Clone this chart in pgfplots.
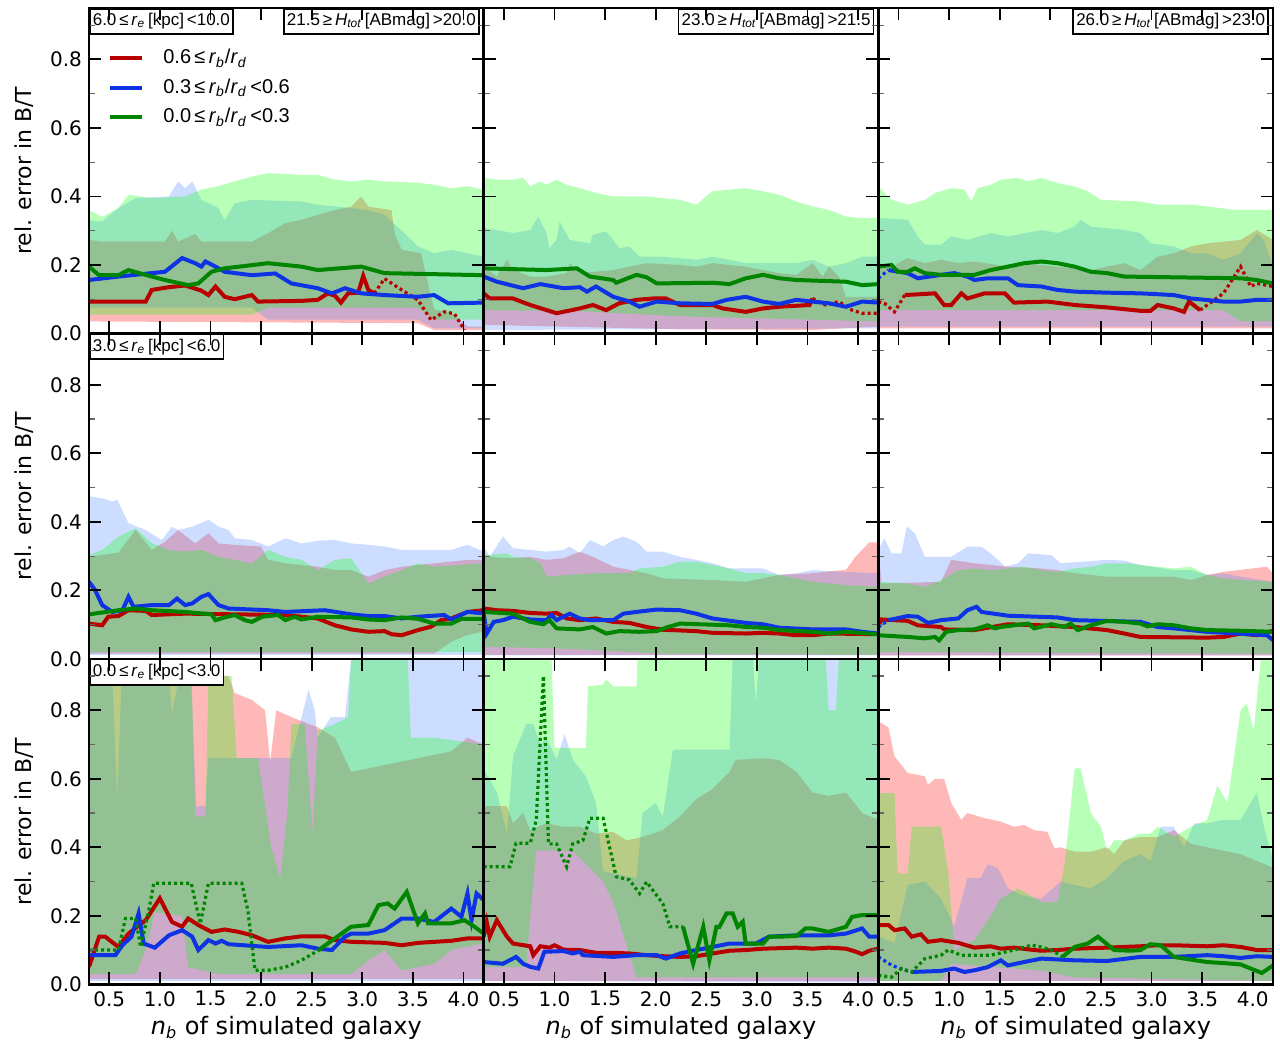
\documentclass[border=0pt]{standalone}
\usepackage{fontspec}
\setmainfont{DejaVu Sans}
\newfontfamily\lib{Liberation Sans}
\usepackage{pgfplots}
\pgfplotsset{compat=1.18}
\usepgfplotslibrary{groupplots,fillbetween}
\definecolor{lred}{rgb}{0.72,0,0}
\definecolor{lblue}{rgb}{0.05,0.2,0.9}
\definecolor{lgreen}{rgb}{0,0.52,0}
\definecolor{fblue}{rgb}{0.3,0.52,1}
\pgfplotsset{
 fR/.style={fill=red, fill opacity=0.28, draw=none, forget plot},
 fB/.style={fill=fblue, fill opacity=0.28, draw=none, forget plot},
 fG/.style={fill=green, fill opacity=0.28, draw=none, forget plot},
 pth/.style={draw=none, forget plot},
 mR/.style={lred, line width=2pt, forget plot},
 mB/.style={lblue, line width=2pt, forget plot},
 mG/.style={lgreen, line width=2pt, forget plot},
 dR/.style={lred, line width=1.6pt, dash pattern=on 1.5pt off 1.5pt, forget plot},
 dB/.style={lblue, line width=1.6pt, dash pattern=on 1.5pt off 1.5pt, forget plot},
 dG/.style={lgreen, line width=1.6pt, dash pattern=on 1.5pt off 1.5pt, forget plot},
}
\tikzset{boxl/.style={draw=black, line width=0.8pt, fill=white, inner xsep=1.5pt, inner ysep=2.3pt, font=\lib\fontsize{8.5}{10}\selectfont}}
\begin{document}
\begin{tikzpicture}
\begin{groupplot}[
 group style={group size=3 by 3, horizontal sep=0pt, vertical sep=0pt, group name=G,
   xticklabels at=edge bottom, yticklabels at=edge left},
 width=197.3pt, height=162.7pt, scale only axis,
 xmin=0.3, xmax=4.2, ymin=0, ymax=0.95,
 xtick={0.5,1,1.5,2,2.5,3,3.5,4},
 ytick={0,0.2,0.4,0.6,0.8},
 minor ytick={0.1,0.3,0.5,0.7,0.9},
 tick align=inside,
 major tick length=6pt, minor tick length=3pt,
 major tick style={black, line width=0.9pt},
 minor tick style={black!60, line width=0.6pt},
 axis line style={line width=1.2pt},
 axis on top,
 no markers,
 tick label style={font=\fontsize{10}{12}\selectfont},
 xticklabel style={/pgf/number format/.cd, fixed, fixed zerofill, precision=1, assume math mode=true},
 yticklabel style={/pgf/number format/.cd, fixed, fixed zerofill, precision=1, assume math mode=true},
 ylabel style={at={(axis description cs:-0.165,0.5)}, anchor=center, font=\fontsize{11}{13}\selectfont},
 xlabel style={at={(axis description cs:0.5,-0.135)}, anchor=center, font=\fontsize{12}{14}\selectfont},
]
% ---------------- r1c1
\nextgroupplot[ylabel={rel. error in B/T},
 legend style={draw=none, fill=none, at={(axis description cs:0.048,0.886)}, anchor=north west,
   font=\lib\fontsize{10}{12}\selectfont, row sep=2pt, column sep=7.5pt, inner sep=0pt, nodes={inner sep=2pt}},
 legend cell align=left,
 legend image code/.code={\draw[#1, line width=2pt] (0pt,0pt) -- (16pt,0pt);}]
\addlegendimage{lred}\addlegendentry{0.6\,≤\,\textit{r}\textsubscript{\textit{b}}/\textit{r}\textsubscript{\textit{d}}}
\addlegendimage{lblue}\addlegendentry{0.3\,≤\,\textit{r}\textsubscript{\textit{b}}/\textit{r}\textsubscript{\textit{d}}\,<0.6}
\addlegendimage{lgreen}\addlegendentry{0.0\,≤\,\textit{r}\textsubscript{\textit{b}}/\textit{r}\textsubscript{\textit{d}}\,<0.3}
\addplot[pth, name path=a1] coordinates {(0.30,0.273)(0.43,0.268)(1.05,0.268)(1.12,0.30)(1.18,0.268)(1.35,0.29)(1.41,0.268)(1.91,0.268)(2.07,0.293)(2.24,0.322)(2.40,0.332)(2.56,0.346)(2.73,0.36)(2.89,0.37)(2.99,0.40)(3.06,0.37)(3.29,0.36)(3.32,0.29)(3.39,0.244)(3.58,0.234)(3.71,0.07)(3.88,0.06)(4.04,0.02)(4.2,0.02)};
\addplot[pth, name path=b1] coordinates {(0.30,0.035)(3.55,0.03)(3.71,0.01)(4.2,0.01)};
\addplot[fR] fill between[of=a1 and b1];
\addplot[pth, name path=c1] coordinates {(0.30,0.33)(0.43,0.327)(0.59,0.366)(0.76,0.395)(1.09,0.40)(1.18,0.444)(1.25,0.424)(1.32,0.444)(1.41,0.39)(1.58,0.366)(1.64,0.33)(1.74,0.38)(1.91,0.39)(2.40,0.385)(2.56,0.376)(2.89,0.366)(3.06,0.36)(3.22,0.346)(3.39,0.30)(3.55,0.254)(3.71,0.234)(3.88,0.244)(4.2,0.224)};
\addplot[pth, name path=d1] coordinates {(0.30,0.075)(1.91,0.075)(2.07,0.04)(3.55,0.04)(3.71,0.015)(4.2,0.015)};
\addplot[fB] fill between[of=c1 and d1];
\addplot[pth, name path=e1] coordinates {(0.30,0.36)(0.43,0.34)(0.59,0.366)(0.69,0.405)(0.92,0.395)(1.25,0.40)(1.41,0.42)(1.58,0.43)(1.74,0.444)(1.91,0.458)(2.07,0.468)(2.40,0.463)(2.56,0.463)(2.73,0.449)(2.89,0.444)(3.06,0.449)(3.22,0.444)(3.55,0.44)(3.71,0.434)(3.88,0.424)(4.04,0.43)(4.2,0.42)};
\addplot[pth, name path=f1] coordinates {(0.30,0.055)(1.91,0.055)(2.07,0.075)(3.55,0.075)(3.71,0.04)(4.2,0.04)};
\addplot[fG] fill between[of=e1 and f1];
\addplot[mR] coordinates {(0.30,0.093)(0.86,0.093)(0.92,0.127)(1.09,0.135)(1.25,0.14)(1.41,0.125)(1.48,0.112)(1.55,0.137)(1.64,0.107)(1.74,0.10)(1.91,0.112)(1.97,0.093)(2.40,0.095)(2.56,0.098)(2.66,0.117)(2.73,0.11)(2.79,0.09)(2.86,0.117)(2.96,0.119)(3.01,0.168)(3.06,0.127)(3.12,0.117)};
\addplot[dR] coordinates {(3.12,0.117)(3.22,0.16)(3.39,0.127)(3.55,0.098)(3.68,0.039)(3.81,0.063)(3.91,0.058)(4.01,0.01)};
\addplot[mB] coordinates {(0.30,0.156)(0.59,0.166)(1.05,0.18)(1.22,0.22)(1.35,0.205)(1.41,0.195)(1.45,0.21)(1.55,0.195)(1.64,0.18)(1.91,0.17)(2.14,0.175)(2.30,0.146)(2.56,0.132)(2.70,0.117)(2.83,0.132)(2.99,0.117)(3.22,0.112)(3.55,0.107)(3.71,0.112)(3.85,0.088)(4.2,0.09)};
\addplot[mG] coordinates {(0.30,0.195)(0.40,0.17)(0.59,0.17)(0.69,0.185)(0.92,0.166)(1.05,0.156)(1.28,0.141)(1.38,0.146)(1.51,0.18)(1.64,0.19)(2.07,0.205)(2.40,0.195)(2.56,0.185)(2.99,0.195)(3.22,0.176)(4.2,0.17)};
\node[boxl, anchor=north west] at (rel axis cs:0,1) {6.0\,≤\,\textit{r}\textsubscript{\textit{e}}\,[kpc]\,<10.0};
\node[boxl, anchor=north east, xshift=-2pt] at (rel axis cs:1,1) {21.5\,≥\,\textit{H}\textsubscript{\textit{tot}}\,[ABmag]\,>20.0};
% ---------------- r1c2
\nextgroupplot
\addplot[pth, name path=a2] coordinates {(0.30,0.195)(0.43,0.166)(0.53,0.215)(0.59,0.185)(0.76,0.166)(0.92,0.166)(1.12,0.176)(1.15,0.205)(1.25,0.176)(1.58,0.185)(1.74,0.195)(1.91,0.205)(2.24,0.20)(2.40,0.195)(2.56,0.205)(2.89,0.195)(3.06,0.185)(3.22,0.176)(3.39,0.171)(3.55,0.205)(3.65,0.166)(3.71,0.195)(3.81,0.166)(3.88,0.107)(4.2,0.107)};
\addplot[pth, name path=b2] coordinates {(0.30,0.025)(2.24,0.012)(3.55,0.01)(4.2,0.02)};
\addplot[fR] fill between[of=a2 and b2];
\addplot[pth, name path=c2] coordinates {(0.30,0.307)(0.43,0.302)(0.59,0.293)(0.76,0.302)(0.84,0.341)(0.92,0.293)(0.95,0.249)(1.02,0.273)(1.05,0.327)(1.15,0.273)(1.35,0.263)(1.38,0.288)(1.51,0.298)(1.58,0.273)(1.64,0.249)(1.74,0.254)(1.84,0.224)(2.07,0.224)(2.40,0.215)(2.56,0.224)(2.73,0.215)(2.89,0.205)(3.39,0.205)(3.55,0.215)(3.71,0.195)(3.88,0.205)(4.04,0.224)(4.2,0.224)};
\addplot[pth, name path=d2] coordinates {(0.30,0.01)(4.2,0.015)};
\addplot[fB] fill between[of=c2 and d2];
\addplot[pth, name path=e2] coordinates {(0.30,0.454)(0.43,0.449)(0.59,0.449)(0.69,0.454)(0.76,0.429)(0.86,0.444)(0.92,0.434)(1.02,0.449)(1.12,0.434)(1.25,0.424)(1.41,0.41)(1.58,0.40)(1.91,0.40)(2.07,0.395)(2.24,0.39)(2.40,0.376)(2.56,0.415)(2.73,0.42)(2.89,0.424)(3.06,0.415)(3.22,0.405)(3.39,0.385)(3.55,0.371)(3.71,0.361)(3.88,0.341)(4.04,0.337)(4.2,0.337)};
\addplot[pth, name path=f2] coordinates {(0.30,0.068)(1.25,0.065)(2.24,0.05)(3.55,0.04)(4.2,0.035)};
\addplot[fG] fill between[of=e2 and f2];
\addplot[mR] coordinates {(0.30,0.117)(0.36,0.102)(0.59,0.102)(0.76,0.083)(1.02,0.059)(1.25,0.073)(1.38,0.083)(1.51,0.068)(1.64,0.088)(1.81,0.098)(1.97,0.102)(2.10,0.102)(2.24,0.083)(2.56,0.083)(2.66,0.073)(2.89,0.063)(3.06,0.073)(3.22,0.078)(3.52,0.083)(3.55,0.102)};
\addplot[dR] coordinates {(3.55,0.102)(3.68,0.083)(3.81,0.093)(3.94,0.068)(4.04,0.059)(4.2,0.059)};
\addplot[mB] coordinates {(0.30,0.166)(0.43,0.151)(0.69,0.132)(0.86,0.144)(1.09,0.132)(1.25,0.135)(1.32,0.122)(1.41,0.137)(1.58,0.107)(1.74,0.093)(1.84,0.078)(2.01,0.093)(2.24,0.088)(2.56,0.086)(2.70,0.098)(2.89,0.107)(3.06,0.093)(3.22,0.086)(3.39,0.098)(3.55,0.093)(3.71,0.088)(3.88,0.078)(4.04,0.093)(4.2,0.09)};
\addplot[mG] coordinates {(0.30,0.19)(0.92,0.185)(1.22,0.19)(1.35,0.166)(1.58,0.156)(1.61,0.148)(1.81,0.171)(1.91,0.164)(2.01,0.146)(2.56,0.148)(2.73,0.144)(2.89,0.161)(3.06,0.171)(3.22,0.161)(3.39,0.156)(3.88,0.151)(4.04,0.141)(4.2,0.144)};
\node[boxl, anchor=north east, xshift=-2pt] at (rel axis cs:1,1) {23.0\,≥\,\textit{H}\textsubscript{\textit{tot}}\,[ABmag]\,>21.5};
% ---------------- r1c3
\nextgroupplot
\addplot[pth, name path=a3] coordinates {(0.30,0.205)(0.43,0.195)(0.59,0.22)(0.76,0.205)(0.92,0.215)(1.09,0.205)(1.25,0.21)(1.58,0.195)(1.74,0.205)(2.07,0.195)(2.40,0.185)(2.56,0.195)(2.73,0.205)(2.89,0.185)(3.06,0.224)(3.22,0.234)(3.39,0.254)(3.55,0.263)(3.71,0.268)(3.88,0.273)(4.04,0.302)(4.2,0.273)};
\addplot[pth, name path=b3] coordinates {(0.30,0.015)(4.2,0.015)};
\addplot[fR] fill between[of=a3 and b3];
\addplot[pth, name path=c3] coordinates {(0.30,0.337)(0.59,0.332)(0.69,0.283)(0.76,0.259)(0.92,0.259)(1.02,0.283)(1.18,0.273)(1.41,0.293)(1.58,0.283)(1.91,0.302)(2.07,0.293)(2.24,0.312)(2.30,0.332)(2.40,0.312)(2.73,0.302)(2.89,0.293)(2.99,0.263)(3.22,0.254)(3.39,0.234)(3.55,0.234)(3.71,0.215)(3.88,0.234)(4.04,0.293)(4.11,0.273)(4.2,0.195)};
\addplot[pth, name path=d3] coordinates {(0.30,0.02)(4.2,0.02)};
\addplot[fB] fill between[of=c3 and d3];
\addplot[pth, name path=e3] coordinates {(0.30,0.429)(0.43,0.39)(0.59,0.376)(0.76,0.39)(0.86,0.41)(1.02,0.424)(1.15,0.42)(1.22,0.385)(1.28,0.424)(1.41,0.434)(1.51,0.449)(1.68,0.454)(1.78,0.444)(1.91,0.454)(2.07,0.439)(2.24,0.429)(2.37,0.415)(2.50,0.39)(2.89,0.385)(3.06,0.376)(3.39,0.376)(3.55,0.371)(3.81,0.361)(4.2,0.361)};
\addplot[pth, name path=f3] coordinates {(0.30,0.068)(3.71,0.068)(3.88,0.035)(4.2,0.035)};
\addplot[fG] fill between[of=e3 and f3];
\addplot[dR] coordinates {(0.30,0.093)(0.36,0.088)(0.46,0.063)(0.56,0.112)};
\addplot[mR] coordinates {(0.56,0.112)(0.86,0.117)(0.95,0.083)(1.02,0.083)(1.12,0.117)(1.18,0.102)(1.35,0.117)(1.55,0.117)(1.64,0.09)(1.97,0.093)(2.24,0.083)(2.56,0.076)(2.89,0.066)(2.99,0.066)(3.06,0.083)(3.22,0.073)(3.32,0.063)(3.37,0.093)(3.48,0.068)};
\addplot[dR] coordinates {(3.48,0.068)(3.71,0.117)(3.88,0.195)(3.98,0.137)(4.04,0.146)(4.2,0.137)};
\addplot[dB] coordinates {(0.30,0.161)(0.40,0.185)};
\addplot[mB] coordinates {(0.40,0.185)(0.59,0.176)(0.69,0.161)(0.92,0.171)(1.05,0.176)(1.18,0.166)(1.25,0.156)(1.38,0.161)(1.58,0.161)(1.68,0.141)(1.91,0.137)(2.07,0.127)(2.24,0.122)(2.56,0.119)(2.89,0.117)(3.22,0.112)(3.39,0.102)(3.71,0.093)(3.88,0.093)(4.04,0.098)(4.2,0.098)};
\addplot[mG] coordinates {(0.30,0.195)(0.43,0.20)(0.49,0.18)(0.59,0.18)(0.66,0.19)(0.76,0.176)(0.92,0.171)(1.25,0.171)(1.41,0.185)(1.58,0.195)(1.74,0.205)(1.91,0.21)(2.07,0.205)(2.24,0.195)(2.40,0.18)(2.56,0.176)(2.73,0.166)(3.88,0.161)(4.04,0.156)(4.2,0.146)};
\node[boxl, anchor=north east, xshift=-2pt] at (rel axis cs:1,1) {26.0\,≥\,\textit{H}\textsubscript{\textit{tot}}\,[ABmag]\,>23.0};
% ---------------- r2c1
\nextgroupplot[ylabel={rel. error in B/T}]
\addplot[pth, name path=a4] coordinates {(0.30,0.298)(0.59,0.31)(0.76,0.376)(0.92,0.318)(1.05,0.342)(1.18,0.376)(1.35,0.337)(1.48,0.367)(1.58,0.337)(1.74,0.333)(2.00,0.328)(2.07,0.289)(2.24,0.279)(2.56,0.269)(2.73,0.259)(2.89,0.259)(3.06,0.24)(3.22,0.259)(3.39,0.269)(3.71,0.279)(4.04,0.289)(4.2,0.289)};
\addplot[pth, name path=b4] coordinates {(0.30,0.015)(3.71,0.015)(3.88,0.05)(4.04,0.07)(4.2,0.08)};
\addplot[fR] fill between[of=a4 and b4];
\addplot[pth, name path=c4] coordinates {(0.30,0.474)(0.43,0.469)(0.53,0.459)(0.58,0.464)(0.69,0.396)(0.86,0.376)(1.02,0.347)(1.12,0.386)(1.18,0.376)(1.32,0.386)(1.48,0.406)(1.58,0.386)(1.68,0.376)(1.74,0.352)(1.91,0.347)(2.07,0.328)(2.24,0.352)(2.40,0.337)(2.56,0.345)(2.73,0.347)(2.89,0.337)(3.06,0.333)(3.22,0.328)(3.39,0.318)(3.88,0.318)(4.04,0.333)(4.2,0.313)};
\addplot[pth, name path=d4] coordinates {(0.30,0.012)(4.2,0.012)};
\addplot[fB] fill between[of=c4 and d4];
\addplot[pth, name path=e4] coordinates {(0.30,0.303)(0.43,0.318)(0.59,0.357)(0.76,0.381)(0.92,0.338)(1.09,0.318)(1.25,0.313)(1.41,0.318)(1.58,0.298)(1.74,0.289)(1.91,0.279)(2.07,0.318)(2.24,0.298)(2.40,0.289)(2.56,0.259)(2.73,0.289)(2.89,0.294)(3.06,0.22)(3.22,0.24)(3.39,0.259)(3.55,0.279)(3.71,0.269)(4.2,0.279)};
\addplot[pth, name path=f4] coordinates {(0.30,0.02)(4.2,0.02)};
\addplot[fG] fill between[of=e4 and f4];
\addplot[mR] coordinates {(0.30,0.103)(0.43,0.098)(0.49,0.123)(0.59,0.125)(0.69,0.142)(0.86,0.14)(0.92,0.128)(1.25,0.132)(2.24,0.128)(2.40,0.123)(2.56,0.118)(2.73,0.098)(2.89,0.086)(3.06,0.079)(3.22,0.081)(3.29,0.072)(3.39,0.069)(3.55,0.084)(3.68,0.094)(3.78,0.113)(3.88,0.118)(4.04,0.137)(4.2,0.142)};
\addplot[mB] coordinates {(0.30,0.225)(0.36,0.201)(0.43,0.157)(0.53,0.137)(0.63,0.142)(0.69,0.181)(0.74,0.152)(0.92,0.157)(1.09,0.157)(1.17,0.176)(1.25,0.157)(1.32,0.162)(1.41,0.181)(1.48,0.189)(1.58,0.157)(1.68,0.147)(2.07,0.142)(2.24,0.137)(2.63,0.142)(2.89,0.13)(3.06,0.125)(3.22,0.125)(3.39,0.118)(3.55,0.123)(3.81,0.128)(3.88,0.115)(4.04,0.137)(4.2,0.133)};
\addplot[mG] coordinates {(0.30,0.13)(0.59,0.142)(0.76,0.147)(0.92,0.142)(1.25,0.137)(1.51,0.13)(1.55,0.113)(1.64,0.121)(1.74,0.128)(1.84,0.113)(1.91,0.108)(2.01,0.123)(2.17,0.128)(2.24,0.113)(2.33,0.123)(2.40,0.115)(2.56,0.123)(2.89,0.121)(3.06,0.115)(3.22,0.113)(3.39,0.121)(3.55,0.117)(3.71,0.103)(3.88,0.103)(3.98,0.117)(4.2,0.117)};
\node[boxl, anchor=north west] at (rel axis cs:0,1) {3.0\,≤\,\textit{r}\textsubscript{\textit{e}}\,[kpc]\,<6.0};
% ---------------- r2c2
\nextgroupplot
\addplot[pth, name path=a5] coordinates {(0.30,0.298)(0.59,0.294)(0.76,0.298)(0.92,0.289)(1.09,0.294)(1.25,0.313)(1.41,0.294)(1.58,0.269)(1.74,0.26)(1.91,0.25)(2.07,0.235)(2.56,0.23)(2.89,0.225)(3.22,0.245)(3.55,0.25)(3.71,0.255)(3.88,0.26)(3.98,0.30)(4.11,0.34)(4.2,0.34)};
\addplot[pth, name path=b5] coordinates {(0.30,0.012)(4.2,0.012)};
\addplot[fR] fill between[of=a5 and b5];
\addplot[pth, name path=c5] coordinates {(0.30,0.328)(0.36,0.298)(0.49,0.357)(0.59,0.323)(0.76,0.318)(0.92,0.313)(1.09,0.318)(1.15,0.328)(1.25,0.308)(1.35,0.347)(1.48,0.328)(1.58,0.347)(1.68,0.357)(1.81,0.342)(1.91,0.313)(2.07,0.313)(2.24,0.298)(2.40,0.289)(2.56,0.279)(2.73,0.264)(3.06,0.264)(3.22,0.245)(3.39,0.25)(3.55,0.259)(3.88,0.254)(4.2,0.25)};
\addplot[pth, name path=d5] coordinates {(0.30,0.01)(4.2,0.01)};
\addplot[fB] fill between[of=c5 and d5];
\addplot[pth, name path=e5] coordinates {(0.30,0.303)(0.53,0.308)(0.59,0.298)(0.76,0.294)(0.86,0.279)(0.92,0.24)(1.09,0.244)(1.41,0.25)(1.74,0.25)(1.84,0.264)(2.07,0.269)(2.24,0.284)(2.40,0.284)(2.56,0.274)(2.73,0.264)(2.89,0.25)(3.06,0.25)(3.22,0.245)(3.39,0.235)(3.55,0.225)(3.71,0.22)(3.88,0.215)(4.2,0.21)};
\addplot[pth, name path=f5] coordinates {(0.30,0.035)(1.09,0.03)(2.07,0.015)(4.2,0.012)};
\addplot[fG] fill between[of=e5 and f5];
\addplot[mR] coordinates {(0.30,0.147)(0.43,0.142)(0.59,0.14)(0.76,0.134)(0.92,0.132)(1.02,0.134)(1.12,0.118)(1.25,0.113)(1.41,0.118)(1.58,0.108)(1.74,0.105)(1.91,0.093)(2.07,0.085)(2.24,0.083)(2.40,0.081)(2.56,0.076)(2.89,0.074)(3.06,0.076)(3.22,0.074)(3.39,0.069)(3.55,0.069)(3.71,0.074)(4.2,0.072)};
\addplot[mB] coordinates {(0.30,0.132)(0.33,0.074)(0.40,0.108)(0.49,0.113)(0.59,0.123)(0.76,0.115)(0.92,0.113)(0.97,0.128)(1.02,0.113)(1.15,0.132)(1.25,0.118)(1.35,0.113)(1.58,0.113)(1.68,0.132)(1.81,0.137)(2.01,0.144)(2.24,0.142)(2.40,0.132)(2.56,0.118)(2.89,0.105)(3.06,0.101)(3.22,0.091)(3.55,0.086)(3.88,0.086)(4.04,0.079)(4.2,0.074)};
\addplot[mG] coordinates {(0.30,0.137)(0.59,0.132)(0.76,0.108)(0.89,0.101)(0.95,0.113)(1.02,0.089)(1.25,0.086)(1.38,0.093)(1.51,0.074)(1.64,0.081)(1.84,0.079)(2.01,0.081)(2.10,0.091)(2.24,0.103)(2.73,0.098)(2.89,0.093)(3.06,0.091)(3.22,0.084)(3.55,0.079)(3.71,0.074)(3.88,0.079)(4.2,0.072)};
% ---------------- r2c3
\nextgroupplot
\addplot[pth, name path=a6] coordinates {(0.30,0.337)(0.33,0.22)(0.92,0.225)(1.02,0.289)(1.25,0.279)(1.58,0.269)(1.91,0.264)(2.07,0.259)(2.24,0.25)(2.56,0.24)(3.22,0.24)(3.39,0.23)(3.55,0.245)(3.71,0.254)(4.14,0.269)(4.2,0.25)};
\addplot[pth, name path=b6] coordinates {(0.30,0.01)(4.2,0.01)};
\addplot[fR] fill between[of=a6 and b6];
\addplot[pth, name path=c6] coordinates {(0.30,0.318)(0.36,0.352)(0.43,0.308)(0.53,0.308)(0.58,0.386)(0.66,0.367)(0.76,0.298)(1.02,0.298)(1.18,0.328)(1.32,0.328)(1.45,0.298)(1.55,0.269)(1.68,0.279)(1.78,0.308)(2.01,0.303)(2.10,0.279)(2.56,0.289)(2.73,0.287)(2.89,0.274)(3.22,0.259)(3.39,0.259)(3.55,0.245)(3.71,0.25)(3.88,0.24)(4.2,0.225)};
\addplot[pth, name path=d6] coordinates {(0.30,0.01)(4.2,0.01)};
\addplot[fB] fill between[of=c6 and d6];
\addplot[pth, name path=e6] coordinates {(0.30,0.225)(0.59,0.22)(0.76,0.21)(0.92,0.23)(1.09,0.259)(1.25,0.264)(1.41,0.259)(1.58,0.264)(1.74,0.269)(1.91,0.259)(2.07,0.254)(2.24,0.264)(2.40,0.269)(2.56,0.279)(2.73,0.279)(2.89,0.274)(3.06,0.269)(3.22,0.264)(3.39,0.269)(3.55,0.245)(3.71,0.235)(3.88,0.23)(4.2,0.225)};
\addplot[pth, name path=f6] coordinates {(0.30,0.02)(4.2,0.015)};
\addplot[fG] fill between[of=e6 and f6];
\addplot[mR] coordinates {(0.30,0.093)(0.33,0.115)(0.59,0.111)(0.69,0.098)(0.92,0.093)(0.95,0.086)(1.25,0.084)(1.58,0.101)(1.91,0.098)(2.24,0.093)(2.56,0.084)(2.73,0.074)(2.89,0.064)(3.55,0.062)(3.71,0.064)(3.88,0.074)(4.04,0.069)(4.2,0.082)};
\addplot[dB] coordinates {(0.30,0.093)(0.40,0.113)};
\addplot[mB] coordinates {(0.40,0.113)(0.59,0.125)(0.69,0.123)(0.79,0.105)(0.92,0.113)(1.09,0.118)(1.18,0.142)(1.27,0.152)(1.32,0.137)(1.58,0.126)(2.07,0.121)(2.24,0.113)(2.89,0.108)(3.06,0.093)(3.22,0.089)(3.55,0.079)(4.14,0.069)(4.2,0.055)};
\addplot[mG] coordinates {(0.30,0.069)(0.59,0.064)(0.76,0.06)(0.86,0.064)(0.90,0.054)(0.97,0.079)(1.09,0.084)(1.25,0.086)(1.38,0.098)(1.45,0.089)(1.51,0.093)(1.64,0.098)(1.78,0.103)(1.84,0.089)(2.01,0.101)(2.14,0.093)(2.20,0.103)(2.27,0.084)(2.40,0.098)(2.56,0.111)(2.73,0.108)(2.89,0.103)(2.96,0.095)(3.06,0.101)(3.22,0.098)(3.39,0.089)(3.55,0.084)(3.88,0.082)(4.2,0.079)};
% ---------------- r3c1
\nextgroupplot[ylabel={rel. error in B/T}, xlabel={\textit{n}\textsubscript{\textit{b}} of simulated galaxy}]
\addplot[pth, name path=a7] coordinates {(0.30,0.95)(1.45,0.95)(1.51,0.90)(1.68,0.90)(1.74,0.85)(1.91,0.83)(2.04,0.80)(2.09,0.65)(2.15,0.80)(2.30,0.78)(2.56,0.75)(2.73,0.72)(2.89,0.62)(3.22,0.64)(3.55,0.66)(3.88,0.68)(4.04,0.72)(4.2,0.70)};
\addplot[pth, name path=b7] coordinates {(0.30,0.015)(4.2,0.015)};
\addplot[fR] fill between[of=a7 and b7];
\addplot[pth, name path=c7] coordinates {(0.30,0.90)(0.53,0.90)(0.58,0.54)(0.62,0.88)(0.86,0.90)(0.92,0.93)(1.09,0.90)(1.12,0.79)(1.18,0.88)(1.31,0.88)(1.36,0.52)(1.45,0.52)(1.48,0.66)(2.30,0.66)(2.40,0.78)(2.47,0.86)(2.53,0.80)(2.56,0.72)(2.69,0.78)(2.83,0.78)(2.89,0.95)(4.2,0.95)};
\addplot[pth, name path=d7] coordinates {(0.30,0.01)(4.2,0.01)};
\addplot[fB] fill between[of=c7 and d7];
\addplot[pth, name path=e7] coordinates {(0.30,0.95)(1.31,0.95)(1.35,0.49)(1.45,0.49)(1.48,0.90)(1.71,0.90)(1.76,0.66)(1.97,0.66)(2.10,0.40)(2.19,0.31)(2.26,0.50)(2.30,0.76)(2.43,0.76)(2.51,0.44)(2.56,0.74)(2.73,0.76)(2.86,0.78)(2.89,0.95)(3.45,0.95)(3.48,0.72)(3.71,0.72)(4.2,0.70)};
\addplot[pth, name path=f7] coordinates {(0.30,0.03)(0.76,0.03)(0.86,0.10)(0.95,0.21)(1.22,0.20)(1.28,0.05)(1.58,0.03)(2.89,0.03)(3.06,0.07)(3.22,0.10)(3.39,0.04)(3.71,0.06)(3.88,0.10)(4.2,0.12)};
\addplot[fG] fill between[of=e7 and f7];
\addplot[mR] coordinates {(0.30,0.051)(0.40,0.139)(0.46,0.139)(0.59,0.109)(0.69,0.148)(0.86,0.187)(1.00,0.251)(1.12,0.182)(1.22,0.168)(1.28,0.192)(1.38,0.173)(1.51,0.153)(1.64,0.16)(1.78,0.153)(1.91,0.143)(2.07,0.124)(2.24,0.134)(2.40,0.14)(2.63,0.14)(2.73,0.129)(2.89,0.124)(3.22,0.121)(3.39,0.114)(3.55,0.121)(3.88,0.127)(4.04,0.134)(4.2,0.134)};
\addplot[mB] coordinates {(0.30,0.085)(0.56,0.085)(0.63,0.114)(0.72,0.139)(0.79,0.207)(0.84,0.119)(0.95,0.107)(1.09,0.143)(1.22,0.158)(1.32,0.139)(1.38,0.10)(1.48,0.129)(1.55,0.119)(1.61,0.127)(1.68,0.117)(2.07,0.109)(2.40,0.114)(2.56,0.104)(2.70,0.10)(2.83,0.139)(2.89,0.148)(3.06,0.148)(3.22,0.158)(3.39,0.192)(3.55,0.192)(3.71,0.182)(3.88,0.221)(3.98,0.197)(4.04,0.265)(4.08,0.187)(4.13,0.265)(4.2,0.246)};
\addplot[dG] coordinates {(0.30,0.10)(0.59,0.10)(0.66,0.192)(0.76,0.192)(0.81,0.109)(0.89,0.215)(0.94,0.295)(1.31,0.295)(1.40,0.177)(1.48,0.295)(1.81,0.295)(1.87,0.215)(1.94,0.041)(2.07,0.041)(2.24,0.05)(2.40,0.07)(2.56,0.098)};
\addplot[mG] coordinates {(2.56,0.098)(2.73,0.134)(2.89,0.168)(3.06,0.173)(3.16,0.231)(3.25,0.236)(3.32,0.221)(3.44,0.27)(3.55,0.178)(3.62,0.207)(3.65,0.178)(3.88,0.178)(4.01,0.187)(4.11,0.168)(4.2,0.148)};
\node[boxl, anchor=north west] at (rel axis cs:0,1) {0.0\,≤\,\textit{r}\textsubscript{\textit{e}}\,[kpc]\,<3.0};
% ---------------- r3c2
\nextgroupplot[xlabel={\textit{n}\textsubscript{\textit{b}} of simulated galaxy}]
\addplot[pth, name path=a8] coordinates {(0.30,0.52)(0.53,0.52)(0.59,0.47)(0.69,0.50)(0.76,0.45)(0.92,0.47)(1.09,0.46)(1.25,0.46)(1.41,0.44)(1.58,0.445)(1.71,0.42)(1.87,0.43)(2.07,0.45)(2.24,0.49)(2.40,0.54)(2.56,0.57)(2.73,0.62)(2.79,0.655)(3.06,0.66)(3.22,0.655)(3.39,0.62)(3.55,0.56)(3.71,0.55)(3.88,0.56)(4.04,0.50)(4.2,0.48)};
\addplot[pth, name path=b8] coordinates {(0.30,0.01)(4.2,0.01)};
\addplot[fR] fill between[of=a8 and b8];
\addplot[pth, name path=c8] coordinates {(0.30,0.63)(0.43,0.56)(0.53,0.44)(0.59,0.665)(0.72,0.76)(0.79,0.76)(0.86,0.70)(0.92,0.72)(1.02,0.656)(1.10,0.73)(1.18,0.656)(1.31,0.607)(1.41,0.53)(1.48,0.33)(1.81,0.31)(1.87,0.50)(2.00,0.53)(2.07,0.49)(2.17,0.685)(2.73,0.685)(2.76,0.95)(2.96,0.95)(2.99,0.82)(3.02,0.95)(4.2,0.95)};
\addplot[pth, name path=d8] coordinates {(0.30,0.01)(4.2,0.005)};
\addplot[fB] fill between[of=c8 and d8];
\addplot[pth, name path=e8] coordinates {(0.30,0.95)(0.97,0.95)(1.00,0.69)(1.31,0.69)(1.33,0.87)(1.48,0.875)(1.51,0.89)(1.58,0.87)(1.81,0.87)(1.82,0.95)(3.68,0.95)(3.71,0.80)(3.78,0.80)(3.81,0.95)(4.2,0.95)};
\addplot[pth, name path=f8] coordinates {(0.30,0.05)(0.72,0.05)(0.76,0.20)(0.82,0.39)(1.18,0.39)(1.48,0.30)(1.58,0.24)(1.81,0.02)(4.2,0.02)};
\addplot[fG] fill between[of=e8 and f8];
\addplot[mR] coordinates {(0.30,0.139)(0.33,0.182)(0.36,0.139)(0.43,0.187)(0.53,0.139)(0.59,0.119)(0.76,0.111)(0.79,0.085)(0.86,0.111)(0.95,0.107)(1.00,0.114)(1.09,0.101)(1.25,0.10)(1.41,0.092)(1.58,0.092)(1.74,0.09)(1.91,0.085)(2.07,0.082)(2.24,0.08)(2.40,0.082)(2.56,0.09)(2.73,0.098)(2.89,0.10)(3.06,0.104)(3.39,0.107)(3.55,0.104)(3.71,0.107)(3.88,0.104)(3.98,0.095)(4.04,0.088)(4.11,0.098)(4.2,0.104)};
\addplot[mB] coordinates {(0.30,0.065)(0.49,0.06)(0.62,0.08)(0.69,0.06)(0.76,0.051)(0.84,0.046)(0.90,0.095)(1.09,0.097)(1.18,0.09)(1.25,0.095)(1.28,0.085)(1.58,0.08)(1.81,0.085)(2.01,0.085)(2.10,0.075)(2.24,0.09)(2.40,0.10)(2.56,0.109)(2.73,0.119)(2.99,0.119)(3.12,0.139)(3.39,0.143)(3.71,0.143)(3.88,0.148)(4.04,0.163)(4.11,0.139)(4.2,0.139)};
\addplot[dG] coordinates {(0.30,0.343)(0.56,0.343)(0.62,0.412)(0.76,0.412)(0.82,0.48)(0.89,0.90)(0.94,0.41)(1.02,0.41)(1.12,0.343)(1.18,0.41)(1.28,0.42)(1.35,0.485)(1.48,0.485)(1.61,0.314)(1.74,0.305)(1.84,0.265)(1.91,0.299)(1.97,0.275)(2.07,0.236)(2.14,0.168)(2.27,0.168)};
\addplot[mG] coordinates {(2.27,0.168)(2.37,0.06)(2.47,0.168)(2.53,0.07)(2.60,0.168)(2.63,0.168)(2.70,0.207)(2.76,0.207)(2.81,0.168)(2.86,0.183)(2.89,0.119)(3.06,0.119)(3.12,0.139)(3.22,0.139)(3.39,0.141)(3.48,0.163)(3.55,0.163)(3.71,0.153)(3.88,0.168)(3.94,0.197)(4.04,0.202)(4.2,0.202)};
% ---------------- r3c3
\nextgroupplot[xlabel={\textit{n}\textsubscript{\textit{b}} of simulated galaxy}]
\addplot[pth, name path=a9] coordinates {(0.30,0.768)(0.40,0.75)(0.46,0.665)(0.59,0.617)(0.76,0.607)(0.79,0.582)(0.86,0.60)(0.95,0.60)(1.02,0.529)(1.12,0.48)(1.18,0.50)(1.35,0.485)(1.51,0.475)(1.64,0.46)(1.74,0.465)(1.84,0.45)(1.97,0.445)(2.04,0.397)(2.10,0.40)(2.24,0.387)(2.40,0.387)(2.56,0.40)(2.63,0.38)(2.73,0.42)(2.89,0.43)(3.06,0.43)(3.22,0.45)(3.39,0.41)(3.55,0.40)(3.71,0.39)(3.88,0.38)(4.04,0.36)(4.2,0.34)};
\addplot[pth, name path=b9] coordinates {(0.30,0.01)(4.2,0.01)};
\addplot[fR] fill between[of=a9 and b9];
\addplot[pth, name path=c9] coordinates {(0.30,0.14)(0.46,0.12)(0.59,0.29)(0.76,0.30)(0.92,0.25)(1.05,0.17)(1.18,0.31)(1.31,0.31)(1.38,0.35)(1.48,0.34)(1.58,0.28)(1.71,0.26)(1.91,0.25)(2.10,0.30)(2.24,0.29)(2.40,0.28)(2.56,0.31)(2.73,0.36)(2.89,0.38)(2.99,0.36)(3.09,0.46)(3.22,0.46)(3.32,0.40)(3.42,0.47)(3.55,0.47)(3.71,0.48)(3.88,0.48)(4.04,0.56)(4.11,0.46)(4.2,0.36)};
\addplot[pth, name path=d9] coordinates {(0.30,0.01)(4.2,0.01)};
\addplot[fB] fill between[of=c9 and d9];
\addplot[pth, name path=e9] coordinates {(0.30,0.558)(0.46,0.558)(0.49,0.324)(0.59,0.324)(0.63,0.46)(0.92,0.46)(0.99,0.33)(1.05,0.10)(1.25,0.13)(1.41,0.20)(1.51,0.25)(1.68,0.28)(1.91,0.24)(2.07,0.24)(2.14,0.35)(2.24,0.63)(2.30,0.63)(2.40,0.50)(2.50,0.46)(2.56,0.39)(2.63,0.42)(2.73,0.42)(2.89,0.44)(2.99,0.44)(3.06,0.46)(3.22,0.43)(3.39,0.46)(3.55,0.48)(3.65,0.58)(3.75,0.53)(3.88,0.80)(3.94,0.82)(4.01,0.74)(4.08,0.95)(4.2,0.95)};
\addplot[pth, name path=f9] coordinates {(0.30,0.01)(0.92,0.01)(1.02,0.06)(1.91,0.04)(2.24,0.02)(4.2,0.01)};
\addplot[fG] fill between[of=e9 and f9];
\addplot[mR] coordinates {(0.30,0.173)(0.40,0.173)(0.46,0.158)(0.56,0.163)(0.63,0.139)(0.72,0.146)(0.79,0.124)(0.92,0.129)(1.09,0.121)(1.25,0.107)(1.41,0.111)(1.51,0.104)(1.64,0.107)(1.81,0.101)(1.91,0.098)(2.07,0.10)(2.24,0.104)(2.56,0.107)(2.89,0.111)(3.06,0.114)(3.22,0.114)(3.55,0.111)(3.71,0.114)(3.88,0.109)(4.04,0.10)(4.2,0.10)};
\addplot[dB] coordinates {(0.30,0.08)(0.43,0.056)(0.56,0.041)(0.63,0.036)};
\addplot[mB] coordinates {(0.63,0.036)(0.92,0.039)(1.05,0.046)(1.15,0.036)(1.25,0.041)(1.38,0.05)(1.51,0.07)(1.58,0.055)(1.74,0.065)(1.91,0.075)(2.24,0.07)(2.56,0.068)(2.89,0.08)(3.22,0.08)(3.55,0.085)(3.71,0.082)(3.88,0.077)(4.04,0.082)(4.2,0.08)};
\addplot[dG] coordinates {(0.30,0.026)(0.43,0.021)(0.53,0.046)(0.63,0.036)(0.76,0.075)(0.92,0.085)(0.99,0.10)(1.12,0.085)(1.41,0.085)(1.64,0.10)(1.81,0.114)(1.91,0.109)(2.01,0.10)(2.12,0.08)};
\addplot[mG] coordinates {(2.12,0.08)(2.24,0.109)(2.37,0.119)(2.47,0.139)(2.63,0.10)(2.79,0.098)(2.89,0.10)(2.99,0.117)(3.09,0.114)(3.22,0.08)(3.39,0.072)(3.55,0.065)(3.71,0.062)(3.88,0.058)(3.98,0.046)(4.09,0.033)(4.2,0.055)};
\end{groupplot}
\pgfresetboundingbox
\path[use as bounding box] ([xshift=-44.5pt,yshift=4pt]G c1r1.north west) rectangle ([xshift=3.5pt,yshift=-31pt]G c3r3.south east);
\end{tikzpicture}
\end{document}
